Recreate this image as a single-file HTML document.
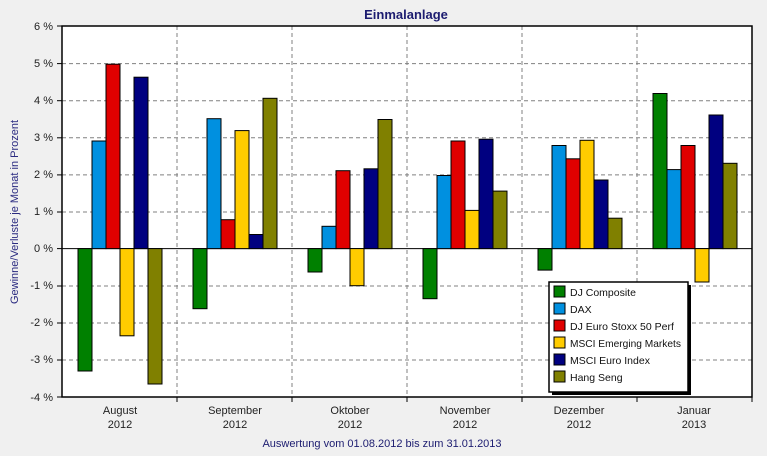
<!DOCTYPE html>
<html><head><meta charset="utf-8"><style>
html,body{margin:0;padding:0;background:#f0f0f0;}
svg{display:block;font-family:"Liberation Sans",sans-serif;}
</style></head><body>
<svg width="767" height="456" xmlns="http://www.w3.org/2000/svg">
<rect width="767" height="456" fill="#f0f0f0"/>
<text x="406" y="19" text-anchor="middle" font-size="13" font-weight="bold" fill="#1c1c70">Einmalanlage</text>
<rect x="62" y="26" width="690" height="371" fill="#fff"/>
<g stroke="#808080" stroke-dasharray="4,3" stroke-width="1">
<line x1="62" y1="63.6" x2="752" y2="63.6"/><line x1="62" y1="100.7" x2="752" y2="100.7"/>
<line x1="62" y1="137.8" x2="752" y2="137.8"/><line x1="62" y1="174.9" x2="752" y2="174.9"/>
<line x1="62" y1="212" x2="752" y2="212"/>
<line x1="62" y1="286" x2="752" y2="286"/><line x1="62" y1="323" x2="752" y2="323"/>
<line x1="62" y1="360" x2="752" y2="360"/>
<line x1="177" y1="26" x2="177" y2="397"/><line x1="292" y1="26" x2="292" y2="397"/>
<line x1="407" y1="26" x2="407" y2="397"/><line x1="522" y1="26" x2="522" y2="397"/>
<line x1="637" y1="26" x2="637" y2="397"/>
</g>
<line x1="62" y1="248.6" x2="752" y2="248.6" stroke="#000"/>
<g stroke="#000" stroke-width="1">
<rect x="78" y="248.6" width="14" height="122.4" fill="#008000"/>
<rect x="92" y="141.0" width="14" height="107.6" fill="#0090e0"/>
<rect x="106" y="64.2" width="14" height="184.4" fill="#e00000"/>
<rect x="120" y="248.6" width="14" height="87.2" fill="#ffcc00"/>
<rect x="134" y="77.2" width="14" height="171.4" fill="#000080"/>
<rect x="148" y="248.6" width="14" height="135.4" fill="#808000"/>

<rect x="193" y="248.6" width="14" height="60.1" fill="#008000"/>
<rect x="207" y="118.7" width="14" height="129.9" fill="#0090e0"/>
<rect x="221" y="219.7" width="14" height="28.9" fill="#e00000"/>
<rect x="235" y="130.6" width="14" height="118.0" fill="#ffcc00"/>
<rect x="249" y="234.5" width="14" height="14.1" fill="#000080"/>
<rect x="263" y="98.3" width="14" height="150.3" fill="#808000"/>

<rect x="308" y="248.6" width="14" height="23.4" fill="#008000"/>
<rect x="322" y="226.3" width="14" height="22.3" fill="#0090e0"/>
<rect x="336" y="170.7" width="14" height="77.9" fill="#e00000"/>
<rect x="350" y="248.6" width="14" height="37.1" fill="#ffcc00"/>
<rect x="364" y="168.8" width="14" height="79.8" fill="#000080"/>
<rect x="378" y="119.5" width="14" height="129.1" fill="#808000"/>

<rect x="423" y="248.6" width="14" height="50.1" fill="#008000"/>
<rect x="437" y="175.5" width="14" height="73.1" fill="#0090e0"/>
<rect x="451" y="141.0" width="14" height="107.6" fill="#e00000"/>
<rect x="465" y="210.4" width="14" height="38.2" fill="#ffcc00"/>
<rect x="479" y="139.2" width="14" height="109.4" fill="#000080"/>
<rect x="493" y="191.1" width="14" height="57.5" fill="#808000"/>

<rect x="538" y="248.6" width="14" height="21.5" fill="#008000"/>
<rect x="552" y="145.5" width="14" height="103.1" fill="#0090e0"/>
<rect x="566" y="158.8" width="14" height="89.8" fill="#e00000"/>
<rect x="580" y="140.3" width="14" height="108.3" fill="#ffcc00"/>
<rect x="594" y="180.0" width="14" height="68.6" fill="#000080"/>
<rect x="608" y="218.2" width="14" height="30.4" fill="#808000"/>

<rect x="653" y="93.5" width="14" height="155.1" fill="#008000"/>
<rect x="667" y="169.6" width="14" height="79.0" fill="#0090e0"/>
<rect x="681" y="145.5" width="14" height="103.1" fill="#e00000"/>
<rect x="695" y="248.6" width="14" height="33.4" fill="#ffcc00"/>
<rect x="709" y="115.0" width="14" height="133.6" fill="#000080"/>
<rect x="723" y="163.3" width="14" height="85.3" fill="#808000"/>
</g>
<rect x="62" y="26" width="690" height="371" fill="none" stroke="#000" stroke-width="1.5"/>
<g font-size="11" fill="#222" text-anchor="end">
<text x="53" y="30">6 %</text><text x="53" y="67">5 %</text><text x="53" y="104">4 %</text>
<text x="53" y="141">3 %</text><text x="53" y="178">2 %</text><text x="53" y="215">1 %</text>
<text x="53" y="252">0 %</text><text x="53" y="289">-1 %</text><text x="53" y="326">-2 %</text>
<text x="53" y="363">-3 %</text><text x="53" y="401">-4 %</text>
</g>
<g stroke="#000"><line x1="57" y1="26" x2="62" y2="26"/><line x1="57" y1="63.6" x2="62" y2="63.6"/><line x1="57" y1="100.7" x2="62" y2="100.7"/><line x1="57" y1="137.8" x2="62" y2="137.8"/><line x1="57" y1="174.9" x2="62" y2="174.9"/><line x1="57" y1="212" x2="62" y2="212"/><line x1="57" y1="248.6" x2="62" y2="248.6"/><line x1="57" y1="286" x2="62" y2="286"/><line x1="57" y1="323" x2="62" y2="323"/><line x1="57" y1="360" x2="62" y2="360"/><line x1="57" y1="397" x2="62" y2="397"/>
<line x1="177" y1="397" x2="177" y2="402"/><line x1="292" y1="397" x2="292" y2="402"/><line x1="407" y1="397" x2="407" y2="402"/><line x1="522" y1="397" x2="522" y2="402"/><line x1="637" y1="397" x2="637" y2="402"/><line x1="752" y1="397" x2="752" y2="402"/></g>
<g font-size="11" fill="#222" text-anchor="middle">
<text x="120" y="414">August</text><text x="120" y="428">2012</text>
<text x="235" y="414">September</text><text x="235" y="428">2012</text>
<text x="350" y="414">Oktober</text><text x="350" y="428">2012</text>
<text x="465" y="414">November</text><text x="465" y="428">2012</text>
<text x="579" y="414">Dezember</text><text x="579" y="428">2012</text>
<text x="694" y="414">Januar</text><text x="694" y="428">2013</text>
</g>
<text x="382" y="447" text-anchor="middle" font-size="11" fill="#1c1c70">Auswertung vom 01.08.2012 bis zum 31.01.2013</text>
<text transform="translate(18,212) rotate(-90)" text-anchor="middle" font-size="11" fill="#2a2a80">Gewinne/Verluste je Monat in Prozent</text>
<rect x="552" y="285" width="139" height="110" fill="#000"/>
<rect x="549" y="282" width="139" height="110" fill="#fff" stroke="#000" stroke-width="1.5"/>
<g font-size="10.5" fill="#111" stroke="#000">
<rect x="554" y="286" width="11" height="11" fill="#008000"/><text x="570" y="296" stroke="none">DJ Composite</text>
<rect x="554" y="303" width="11" height="11" fill="#0090e0"/><text x="570" y="313" stroke="none">DAX</text>
<rect x="554" y="320" width="11" height="11" fill="#e00000"/><text x="570" y="330" stroke="none">DJ Euro Stoxx 50 Perf</text>
<rect x="554" y="337" width="11" height="11" fill="#ffcc00"/><text x="570" y="347" stroke="none" textLength="111" lengthAdjust="spacingAndGlyphs">MSCI Emerging Markets</text>
<rect x="554" y="354" width="11" height="11" fill="#000080"/><text x="570" y="364" stroke="none">MSCI Euro Index</text>
<rect x="554" y="371" width="11" height="11" fill="#808000"/><text x="570" y="381" stroke="none">Hang Seng</text>
</g>
</svg>
</body></html>
